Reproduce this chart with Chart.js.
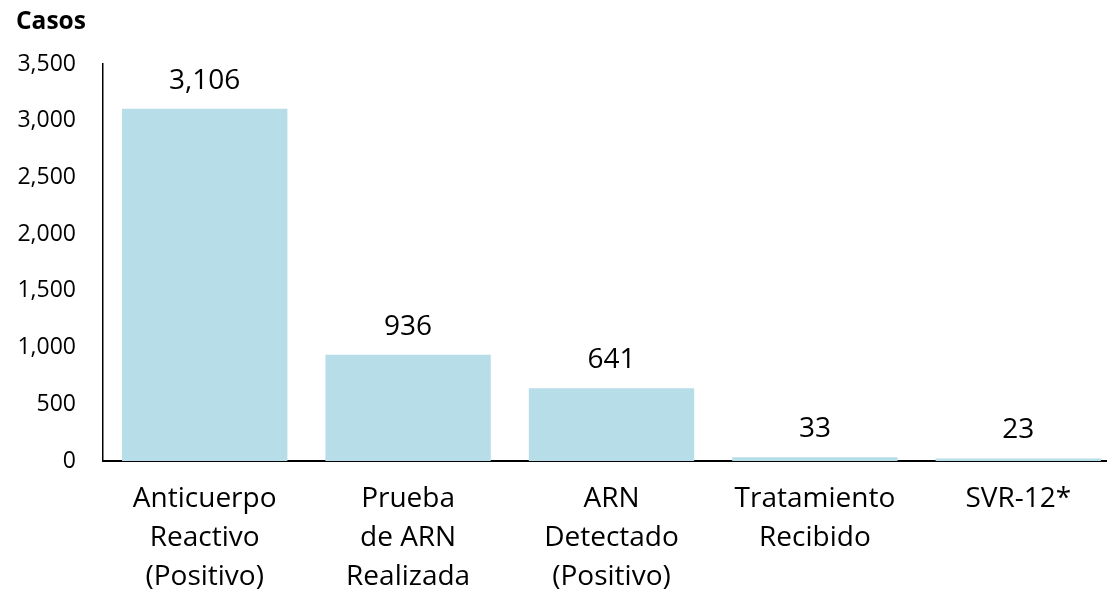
<!DOCTYPE html>
<html>
<head>
<meta charset="utf-8">
<script src="https://cdn.jsdelivr.net/npm/chart.js@4"></script>
<style>
html,body{margin:0;padding:0;background:#fff;overflow:hidden;}
#wrap{width:1107px;height:594px;position:relative;overflow:hidden;}
#c{position:absolute;left:0;top:0;}
</style>
</head>
<body>
<div id="wrap"><canvas id="c" width="1120" height="594"></canvas></div>
<script>
const categories = [
  ["Anticuerpo","Reactivo","(Positivo)"],
  ["Prueba","de ARN","Realizada"],
  ["ARN","Detectado","(Positivo)"],
  ["Tratamiento","Recibido"],
  ["SVR-12*"]
];
const values = [3106, 936, 641, 33, 23];
const yTicks = [0, 500, 1000, 1500, 2000, 2500, 3000, 3500];
const titleText = "Casos";

const FONT = "'Open Sans', 'Liberation Sans', sans-serif";
const fmt = v => v.toLocaleString('en-US');

const dataLabels = {
  id: 'dataLabels',
  afterDatasetsDraw(chart) {
    const ctx = chart.ctx;
    const meta = chart.getDatasetMeta(0);
    ctx.save();
    ctx.fillStyle = '#000';
    ctx.font = "28px " + FONT;
    ctx.textAlign = 'center';
    ctx.textBaseline = 'middle';
    meta.data.forEach((bar, i) => {
      ctx.fillText(fmt(values[i]), bar.x, bar.y - 28);
    });
    ctx.restore();
  }
};

const titlePlugin = {
  id: 'titleText',
  afterDraw(chart) {
    const ctx = chart.ctx;
    ctx.save();
    ctx.fillStyle = '#000';
    ctx.font = "bold 24.5px " + FONT;
    ctx.textAlign = 'left';
    ctx.textBaseline = 'middle';
    ctx.fillText(titleText, 16, 22);
    ctx.restore();
  }
};

new Chart(document.getElementById('c'), {
  type: 'bar',
  data: {
    labels: categories,
    datasets: [{
      data: values,
      backgroundColor: '#B7DEE8',
      borderWidth: 0,
      categoryPercentage: 1,
      barPercentage: 0.813
    }]
  },
  options: {
    responsive: false,
    devicePixelRatio: 1,
    animation: false,
    layout: { padding: { left: 0, right: 0, top: 64, bottom: 0 } },
    plugins: { legend: { display: false }, tooltip: { enabled: false }, title: { display: false } },
    scales: {
      x: {
        grid: { display: false, drawTicks: false },
        border: { display: true, color: '#000', width: 2 },
        ticks: {
          color: '#000',
          font: { family: FONT, size: 28, lineHeight: 1.38 },
          padding: 19,
          maxRotation: 0,
          autoSkip: false
        },
        afterFit(scale) { scale.height = 594 - 461; }
      },
      y: {
        min: 0, max: 3500,
        afterBuildTicks(scale) { scale.ticks = yTicks.map(v => ({ value: v })); },
        grid: { display: false, drawTicks: false },
        border: { display: true, color: '#000', width: 1.5 },
        ticks: {
          color: '#000',
          font: { family: FONT, size: 23 },
          padding: 27,
          callback: v => fmt(v)
        },
        afterFit(scale) { scale.width = 103; }
      }
    }
  },
  plugins: [dataLabels, titlePlugin]
});
</script>
</body>
</html>
